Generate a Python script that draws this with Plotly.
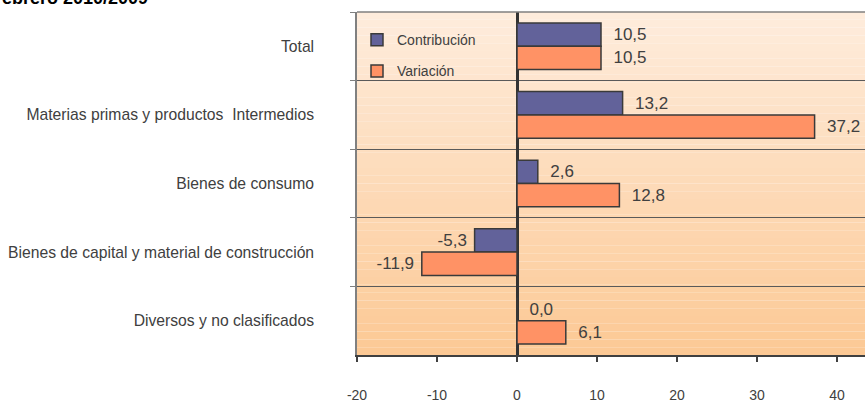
import plotly.graph_objects as go

categories = [
    "Total",
    "Materias primas y productos  Intermedios",
    "Bienes de consumo",
    "Bienes de capital y material de construcción",
    "Diversos y no clasificados",
]
contribucion = [10.5, 13.2, 2.6, -5.3, 0.0]
variacion = [10.5, 37.2, 12.8, -11.9, 6.1]
series_names = ["Contribución", "Variación"]
x_ticks = [-20, -10, 0, 10, 20, 30, 40]
title_text = "ebrero 2010/2009"

FONT = "Liberation Sans, Arial, sans-serif"
TXT = "#404040"


def fmt(v):
    s = f"{v:.1f}".replace(".", ",")
    return s + "\u00a0" if v < 0 else "\u00a0\u00a0" + s


fig = go.Figure()
fig.add_trace(go.Bar(
    y=categories, x=contribucion, orientation="h", name=series_names[0],
    marker=dict(color="#62629A", line=dict(color="#3a3a3a", width=1.5)),
    text=[fmt(v) for v in contribucion], textposition="outside",
    textfont=dict(family=FONT, size=17, color=TXT), cliponaxis=False,
    constraintext="none", legend="legend",
))
fig.add_trace(go.Bar(
    y=categories, x=variacion, orientation="h", name=series_names[1],
    marker=dict(color="#FF9265", line=dict(color="#3a3a3a", width=1.5)),
    text=[fmt(v) for v in variacion], textposition="outside",
    textfont=dict(family=FONT, size=17, color=TXT), cliponaxis=False,
    constraintext="none", legend="legend2",
))

# background gradient strips (decoration)
top = (254, 236, 220)
bot = (252, 201, 149)
n = 44
shapes = []
for i in range(n):
    t = i / (n - 1)
    c = tuple(round(top[k] + (bot[k] - top[k]) * t) for k in range(3))
    shapes.append(dict(type="rect", xref="paper", yref="paper", x0=0, x1=1,
                       y0=1 - (i + 1) / n, y1=1 - i / n,
                       fillcolor="rgb(%d,%d,%d)" % c, line=dict(width=0), layer="below"))
shapes.append(dict(type="line", xref="paper", yref="paper", x0=0, x1=1, y0=1, y1=1,
                   line=dict(color="#808080", width=1.5)))
fig.update_layout(shapes=shapes)

fig.update_layout(
    width=865, height=403, autosize=False,
    margin=dict(l=357, r=0, t=12, b=39),
    paper_bgcolor="white", plot_bgcolor="rgba(0,0,0,0)",
    barmode="group", bargap=0.32, bargroupgap=0.0,
    showlegend=True,
    font=dict(family=FONT, color=TXT, size=14),
    legend=dict(x=0.0, y=0.918, xanchor="left", yanchor="middle",
                bgcolor="rgba(0,0,0,0)", font=dict(size=14, color=TXT), itemwidth=30),
    legend2=dict(x=0.0, y=0.827, xanchor="left", yanchor="middle",
                 bgcolor="rgba(0,0,0,0)", font=dict(size=14, color=TXT), itemwidth=30),
    xaxis=dict(range=[-20, 43.5], tickvals=x_ticks, ticktext=[str(v) for v in x_ticks],
               showgrid=False, zeroline=True, zerolinecolor="#333333", zerolinewidth=2.5,
               showline=True, linecolor="#404040", linewidth=1.5,
               ticks="outside", ticklen=5, tickcolor="#404040", tickwidth=1.5,
               ticklabelstandoff=21, tickfont=dict(size=14, color=TXT)),
    yaxis=dict(autorange="reversed", tickson="boundaries", showgrid=True,
               gridcolor="#5a5a5a", gridwidth=1, showline=True, linecolor="#808080",
               linewidth=1.5, ticks="outside", ticklen=5, tickcolor="#808080",
               ticklabelstandoff=38, tickfont=dict(size=15.7, color=TXT)),
    annotations=[dict(text="<b>" + title_text + "</b>", xref="paper", yref="paper",
                      x=-357 / 508, y=1, xanchor="left", yanchor="bottom", yshift=2,
                      showarrow=False, font=dict(size=18, color="#000000", family=FONT))],
)

fig.write_html("out.html", config={"displayModeBar": False},
               post_script="document.body.style.margin='0';")
